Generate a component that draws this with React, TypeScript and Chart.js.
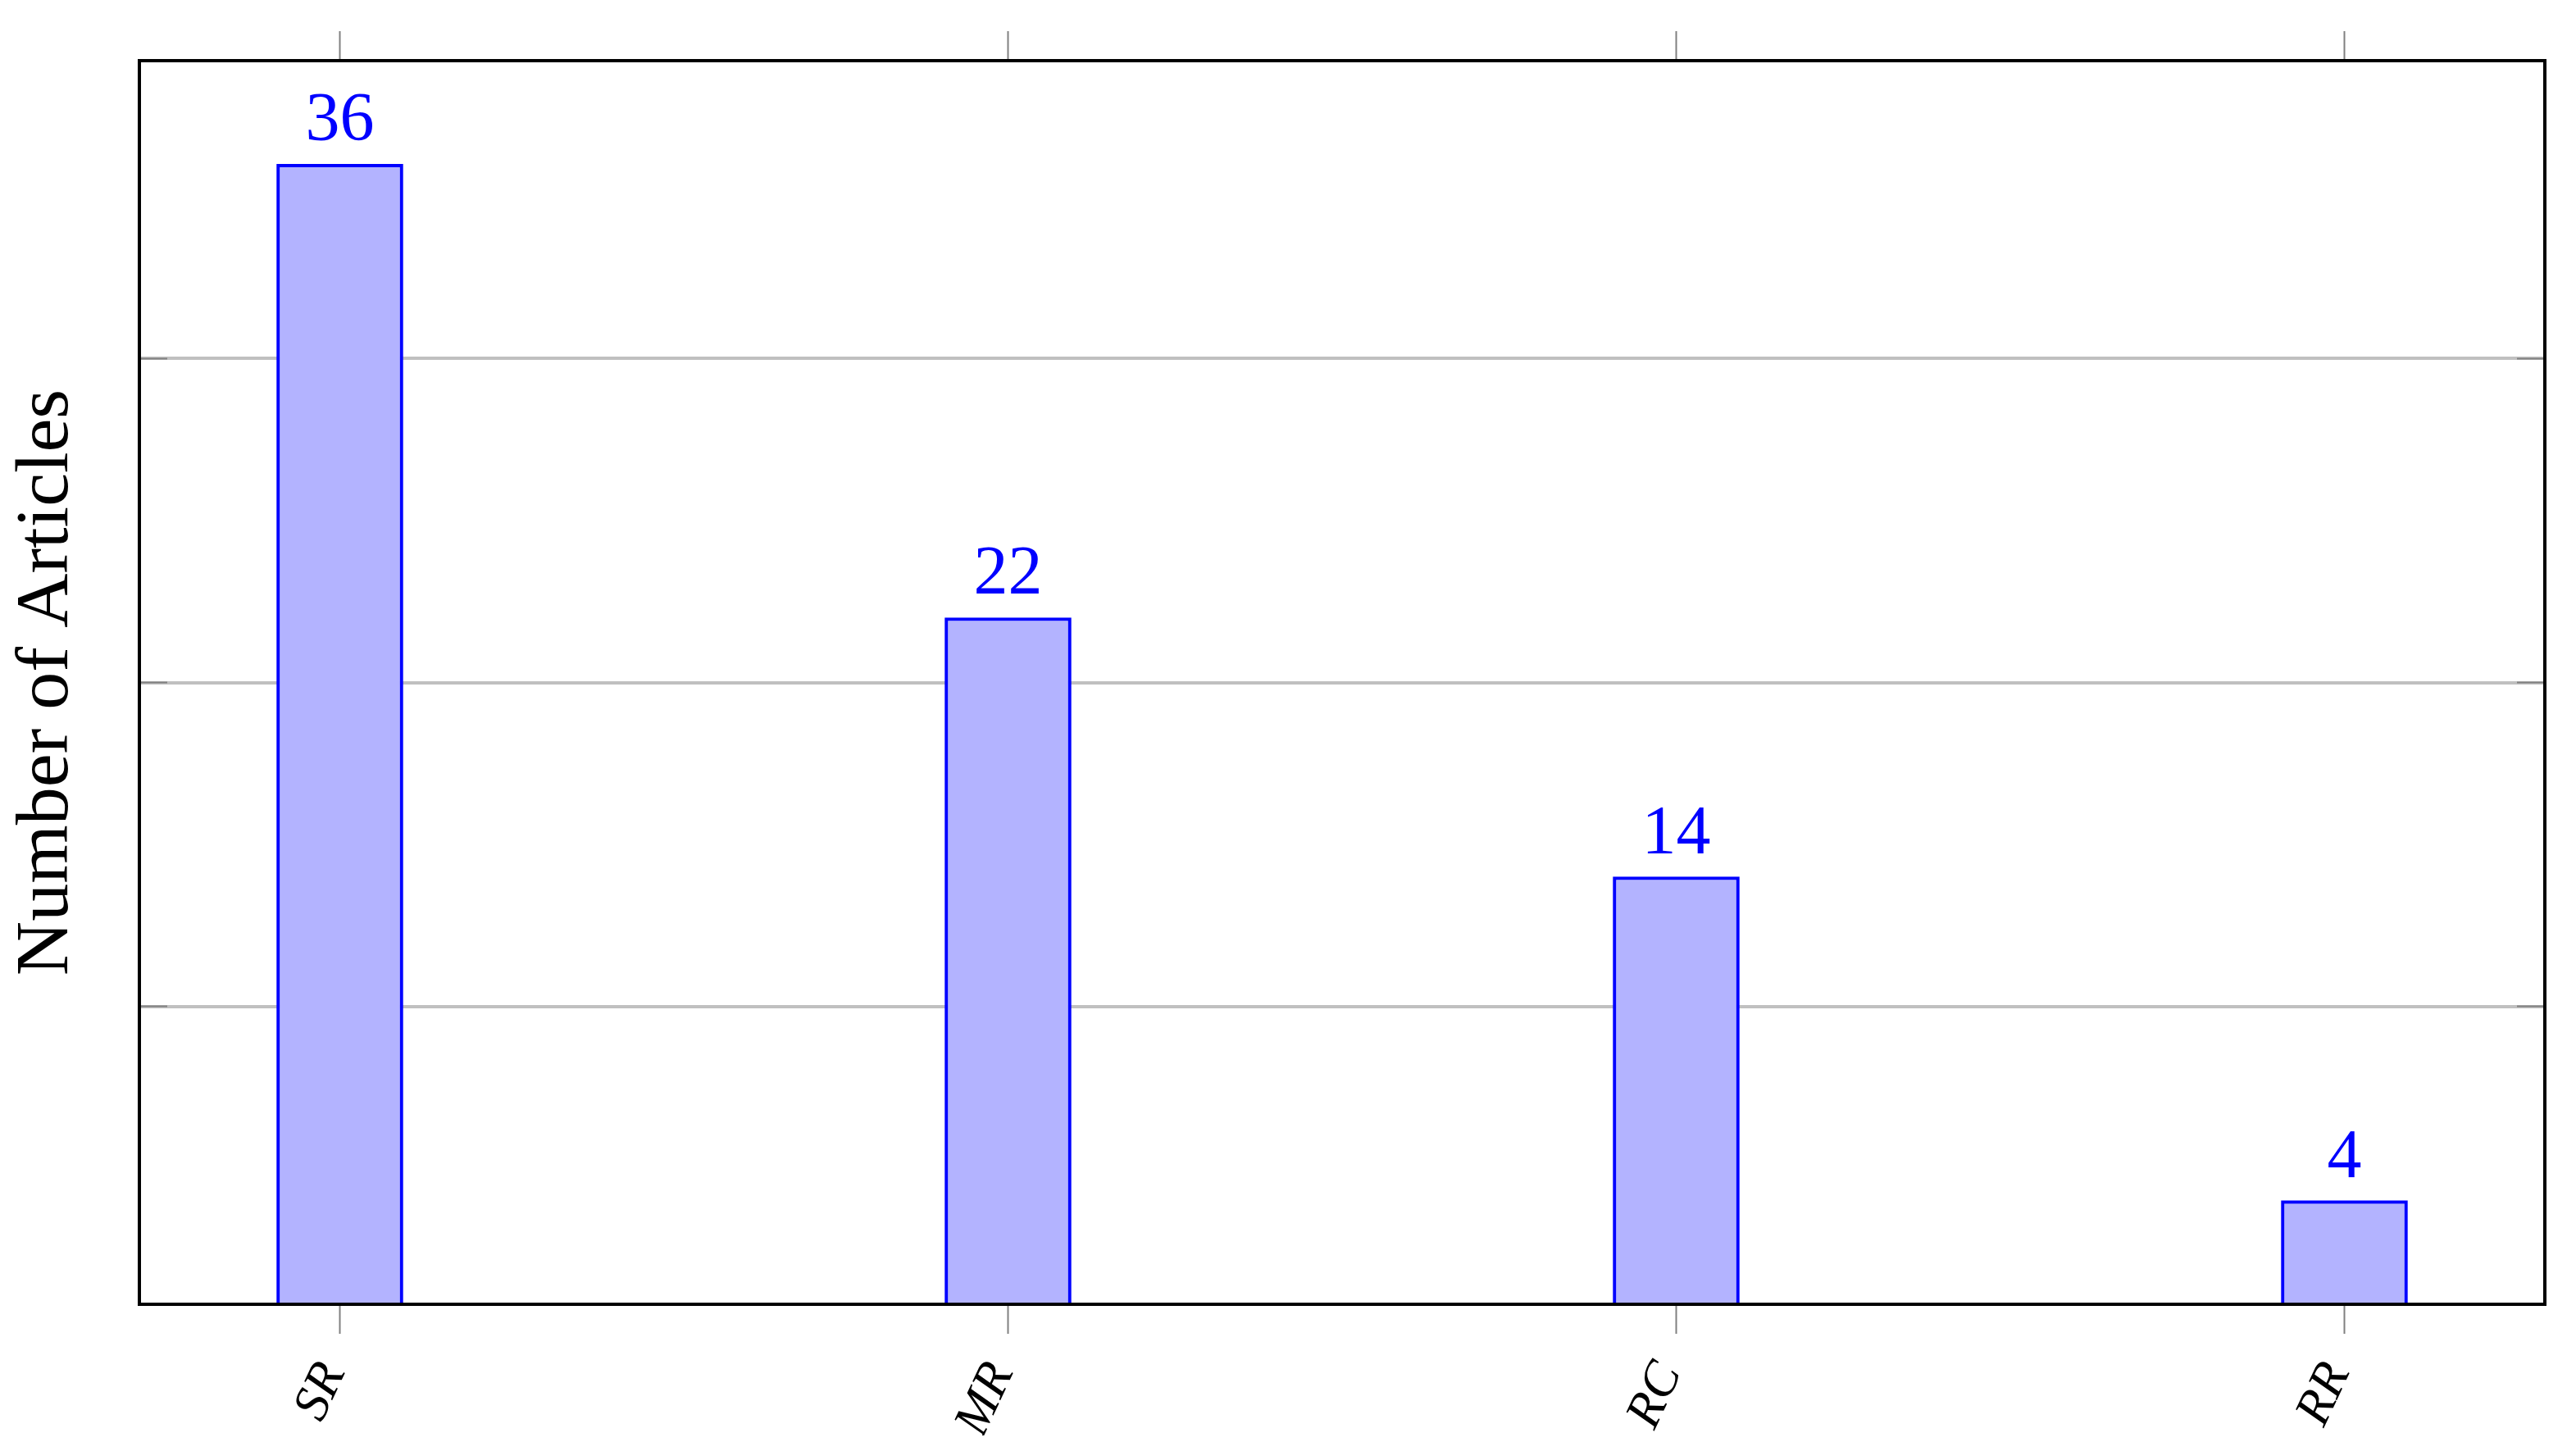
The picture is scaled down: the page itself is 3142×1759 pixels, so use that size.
import React, { useEffect, useRef } from "react";
import { Chart, registerables } from "chart.js";

Chart.register(...registerables);

const categories = ["SR", "MR", "RC", "RR"];
const articleCounts = [36, 22, 14, 4];
const yGridTicks = [10, 20, 30];
const yAxisTitle = "Number of Articles";
const yMin = 0.8;
const yMax = 39.2;
const xMin = -0.3;
const xMax = 3.3;

const SERIF = "'Liberation Serif', 'DejaVu Serif', serif";

const decorPlugin = {
  id: "decor",
  afterDatasetsDraw(chart: any) {
    const { ctx, chartArea } = chart;
    const { left, right, top, bottom } = chartArea;
    const yScale = chart.scales.y;
    ctx.save();
    // inner y ticks
    ctx.strokeStyle = "#808080";
    ctx.lineWidth = 2;
    yGridTicks.forEach((v) => {
      const py = yScale.getPixelForValue(v);
      ctx.beginPath();
      ctx.moveTo(left, py);
      ctx.lineTo(left + 34, py);
      ctx.moveTo(right - 34, py);
      ctx.lineTo(right, py);
      ctx.stroke();
    });
    // frame
    ctx.strokeStyle = "#000000";
    ctx.lineWidth = 4;
    ctx.strokeRect(left, top, right - left, bottom - top);
    // data labels
    const meta = chart.getDatasetMeta(0);
    ctx.fillStyle = "#0000ff";
    ctx.font = `84px ${SERIF}`;
    ctx.textAlign = "center";
    ctx.textBaseline = "alphabetic";
    meta.data.forEach((el: any, i: number) => {
      ctx.fillText(String(articleCounts[i]), el.x, el.y - 29);
    });
    // y axis title
    ctx.translate(74, (top + bottom) / 2);
    ctx.rotate(-Math.PI / 2);
    ctx.fillStyle = "#000000";
    ctx.font = `92px ${SERIF}`;
    ctx.textAlign = "center";
    ctx.textBaseline = "alphabetic";
    ctx.fillText(yAxisTitle, 0, 0);
    ctx.restore();
  },
};

export default function App() {
  const canvasRef = useRef<HTMLCanvasElement | null>(null);

  useEffect(() => {
    if (!canvasRef.current) return;
    const categoryTicks = (s: any) => {
      s.ticks = categories.map((_, i) => ({ value: i }));
    };
    const chart = new Chart(canvasRef.current, {
      type: "bar",
      data: {
        datasets: [
          {
            data: categories.map((_, i) => ({ x: i, y: articleCounts[i] })),
            backgroundColor: "#b3b3ff",
            borderColor: "#0000ff",
            borderWidth: 4,
            barThickness: 154,
            xAxisID: "x",
            yAxisID: "y",
          },
        ],
      },
      options: {
        responsive: false,
        animation: false,
        layout: { padding: { left: 0, right: 30, top: 0, bottom: 0 } },
        plugins: {
          legend: { display: false },
          tooltip: { enabled: false },
        },
        scales: {
          x: {
            type: "linear",
            position: "bottom",
            offset: false,
            min: xMin,
            max: xMax,
            afterBuildTicks: categoryTicks,
            afterFit: (s: any) => {
              s.height = 160;
            },
            ticks: {
              autoSkip: false,
              minRotation: 65,
              maxRotation: 65,
              padding: 24,
              labelOffset: -8,
              color: "#000000",
              font: { family: SERIF, style: "italic", size: 62 },
              callback: (v: any) => categories[v as number] ?? "",
            },
            grid: {
              display: true,
              offset: false,
              drawOnChartArea: false,
              drawTicks: true,
              tickLength: 36,
              tickColor: "#808080",
              tickWidth: 2,
            },
            border: { display: false },
          },
          x2: {
            type: "linear",
            position: "top",
            offset: false,
            min: xMin,
            max: xMax,
            afterBuildTicks: categoryTicks,
            afterFit: (s: any) => {
              s.height = 66;
            },
            ticks: { display: false },
            grid: {
              display: true,
              offset: false,
              drawOnChartArea: false,
              drawTicks: true,
              tickLength: 36,
              tickColor: "#808080",
              tickWidth: 2,
            },
            border: { display: false },
          },
          y: {
            type: "linear",
            min: yMin,
            max: yMax,
            afterBuildTicks: (s: any) => {
              s.ticks = yGridTicks.map((v) => ({ value: v }));
            },
            afterFit: (s: any) => {
              s.width = 162;
            },
            ticks: { display: false },
            grid: {
              color: "#c0c0c0",
              lineWidth: 4,
              drawTicks: false,
            },
            border: { display: false },
          },
        },
      } as any,
      plugins: [decorPlugin],
    });
    return () => chart.destroy();
  }, []);

  return (
    <canvas
      ref={canvasRef}
      width={3126}
      height={1743}
      style={{ display: "block", width: "3126px", height: "1743px" }}
    />
  );
}
